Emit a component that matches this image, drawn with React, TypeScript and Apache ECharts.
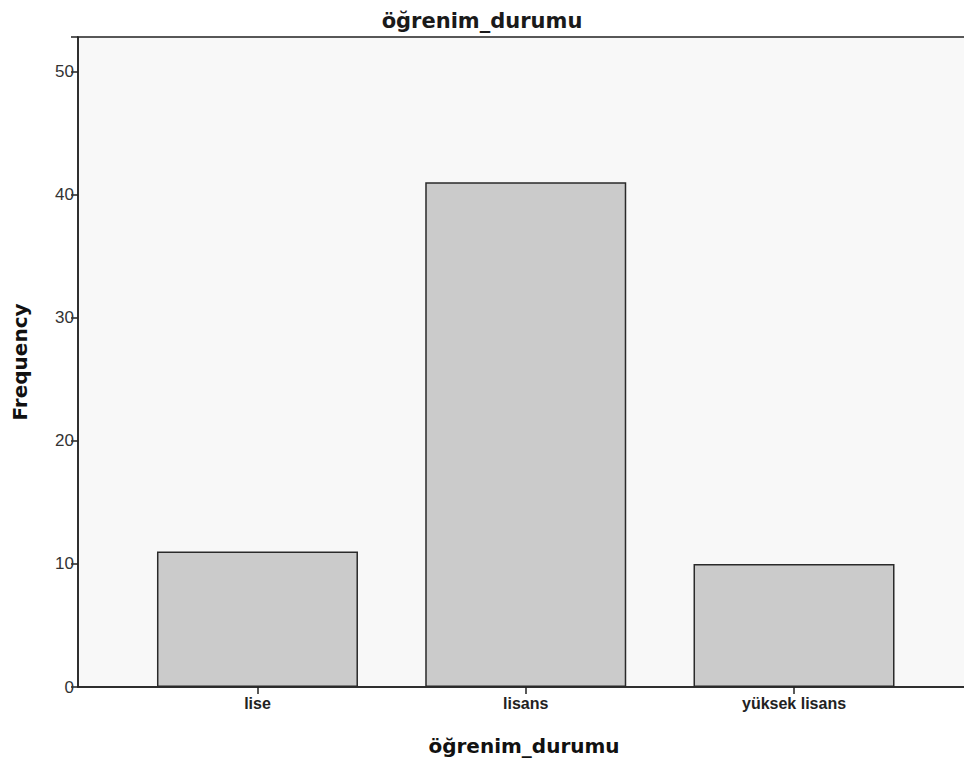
import React, { useEffect, useRef } from "react";
import * as echarts from "echarts";

const titleText = "öğrenim_durumu";
const xAxisName = "öğrenim_durumu";
const yAxisName = "Frequency";
const categories = ["lise", "lisans", "yüksek lisans"];
const frequencies = [11, 41, 10];
const yTicks = [0, 10, 20, 30, 40, 50];

export default function App() {
  const ref = useRef<HTMLDivElement>(null);
  useEffect(() => {
    document.body.style.margin = "0";
    const chart = echarts.init(ref.current!, undefined, { renderer: "svg" });
    const positions = categories.map((_, i) => i + 1);
    chart.setOption({
      animation: false,
      backgroundColor: "#ffffff",
      title: {
        text: titleText,
        left: "center",
        top: 5,
        textStyle: {
          fontFamily: "DejaVu Sans",
          fontSize: 21,
          fontWeight: "bold",
          color: "#1a1a1a",
        },
      },
      grid: {
        left: 78,
        right: -6,
        top: 37,
        bottom: 78,
        containLabel: false,
        outerBoundsMode: "none",
        show: true,
        backgroundColor: "#f8f8f8",
        borderColor: "#222222",
        borderWidth: 1.5,
      },
      xAxis: {
        type: "value",
        min: 0.331,
        max: 3.656,
        name: xAxisName,
        nameLocation: "middle",
        nameGap: 49,
        nameTextStyle: {
          fontFamily: "DejaVu Sans",
          fontSize: 20,
          fontWeight: "bold",
          color: "#111111",
        },
        axisLine: { show: true, lineStyle: { color: "#222222", width: 1.5 } },
        axisTick: {
          show: true,
          inside: false,
          length: 7,
          customValues: positions,
          lineStyle: { color: "#222222", width: 1.5 },
        },
        axisLabel: {
          customValues: positions,
          formatter: (v: number) => categories[Math.round(v) - 1] ?? "",
          fontFamily: "Liberation Sans",
          fontSize: 16,
          fontWeight: "bold",
          color: "#222222",
          margin: 8,
        },
        splitLine: { show: false },
      },
      yAxis: {
        type: "value",
        min: 0,
        max: 52.8,
        interval: 10,
        name: yAxisName,
        nameLocation: "middle",
        nameGap: 48,
        nameTextStyle: {
          fontFamily: "DejaVu Sans",
          fontSize: 20,
          fontWeight: "bold",
          color: "#111111",
        },
        axisLine: { show: true, lineStyle: { color: "#222222", width: 1.5 } },
        axisTick: {
          show: true,
          inside: false,
          length: 7,
          lineStyle: { color: "#222222", width: 1.5 },
        },
        axisLabel: {
          fontFamily: "Liberation Sans",
          fontSize: 17,
          color: "#333333",
          margin: 4,
          formatter: (v: number) => (yTicks.includes(v) ? String(v) : ""),
        },
        splitLine: { show: false },
      },
      series: [
        {
          type: "bar",
          barWidth: 201,
          data: frequencies.map((v, i) => [positions[i], v]),
          itemStyle: {
            color: "#cbcbcb",
            borderColor: "#2a2a2a",
            borderWidth: 1.5,
          },
        },
      ],
    });
    return () => chart.dispose();
  }, []);
  return <div ref={ref} style={{ width: 964, height: 765 }} />;
}
